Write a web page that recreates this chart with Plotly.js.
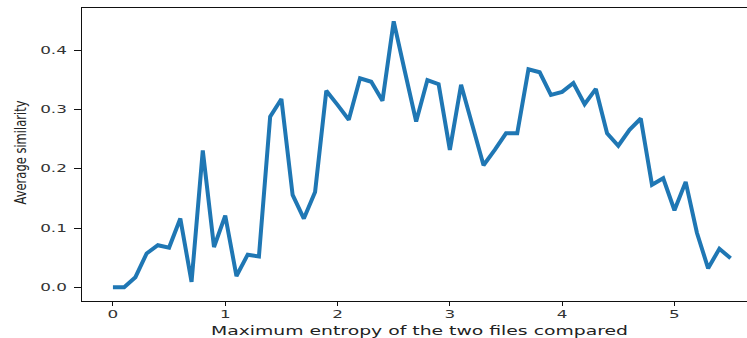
<!DOCTYPE html>
<html>
<head>
<meta charset="utf-8">
<script src="https://cdn.plot.ly/plotly-3.0.1.min.js"></script>
<style>html,body{margin:0;padding:0;overflow:hidden;background:#fff;}</style>
</head>
<body>
<div id="chart" style="width:747px;height:338px;"></div>
<script>
const entropy = [0.0,0.1,0.2,0.3,0.4,0.5,0.6,0.7,0.8,0.9,1.0,1.1,1.2,1.3,1.4,1.5,1.6,1.7,1.8,1.9,
  2.0,2.1,2.2,2.3,2.4,2.5,2.6,2.7,2.8,2.9,3.0,3.1,3.2,3.3,3.4,3.5,3.6,3.7,3.8,3.9,
  4.0,4.1,4.2,4.3,4.4,4.5,4.6,4.7,4.8,4.9,5.0,5.1,5.2,5.3,5.4,5.5];
const similarity = [0.0,0.0,0.017,0.057,0.071,0.067,0.116,0.009,0.231,0.068,0.121,0.019,0.055,0.052,0.288,0.318,0.156,0.116,0.161,0.332,
  0.308,0.283,0.353,0.347,0.315,0.449,0.364,0.280,0.350,0.343,0.232,0.342,0.274,0.206,0.232,0.260,0.260,0.368,0.363,0.325,
  0.330,0.345,0.309,0.335,0.260,0.239,0.266,0.285,0.173,0.184,0.130,0.178,0.092,0.032,0.065,0.049];
const yTicks = [0.0,0.1,0.2,0.3,0.4];
const yTickText = ["0.0","0.1","0.2","0.3","0.4"];
const xTicks = [0,1,2,3,4,5];
const xTitle = 'Maximum entropy of the two files compared';
const yTitle = 'Average similarity';

Plotly.newPlot('chart', [{
  x: entropy, y: similarity, type: 'scatter', mode: 'lines',
  line: {color: '#1f77b4', width: 4}, hoverinfo: 'none'
}], {
  width: 747, height: 338,
  margin: {l: 82, r: 0, t: 8, b: 37, pad: 0},
  paper_bgcolor: '#fff', plot_bgcolor: '#fff',
  showlegend: false,
  font: {family: 'DejaVu Sans', color: '#222', size: 10},
  xaxis: {
    range: [-0.2755, 5.646], tickvals: xTicks, ticktext: xTicks.map(String),
    showgrid: false, zeroline: false, showline: true, mirror: true,
    linecolor: '#111', linewidth: 1.1, ticks: 'outside', ticklen: 4, tickwidth: 1, tickcolor: '#111',
    tickfont: {family: 'DejaVu Sans', size: 10, color: '#333'},
    title: {text: xTitle, font: {family: 'DejaVu Sans', size: 11.5, color: '#222'}, standoff: 2}
  },
  yaxis: {
    range: [-0.0232, 0.4716], tickvals: yTicks, ticktext: yTickText,
    showgrid: false, zeroline: false, showline: true, mirror: false,
    linecolor: '#111', linewidth: 1.1, ticks: 'outside', ticklen: 7, tickwidth: 1, tickcolor: '#111',
    tickfont: {family: 'DejaVu Sans', size: 10, color: '#333'},
    ticklabelstandoff: 5,
    title: {text: yTitle, font: {family: 'DejaVu Sans', size: 11.5, color: '#222'}, standoff: 30}
  }
}, {staticPlot: true}).then(function (gd) {
  const K = 1.68;
  gd.querySelectorAll('.xtick text, .ytick text').forEach(function (el) {
    const len = el.getComputedTextLength();
    el.setAttribute('textLength', (len * K).toFixed(2));
    el.setAttribute('lengthAdjust', 'spacingAndGlyphs');
  });
  const xt = gd.querySelector('.g-xtitle text');
  if (xt) {
    xt.setAttribute('x', 419.5);
    xt.setAttribute('y', 333);
    xt.setAttribute('textLength', 417);
    xt.setAttribute('lengthAdjust', 'spacingAndGlyphs');
  }
  const yt = gd.querySelector('.g-ytitle text');
  if (yt) {
    const cx = 19.5, cy = 152.5;
    yt.setAttribute('x', cx + 4.5);
    yt.setAttribute('y', cy);
    yt.setAttribute('text-anchor', 'middle');
    yt.setAttribute('transform',
      'translate(' + cx + ',0) scale(1.4,1) translate(' + (-cx) + ',0) rotate(-90,' + (cx + 4.5) + ',' + cy + ')');
  }
});
</script>
</body>
</html>
